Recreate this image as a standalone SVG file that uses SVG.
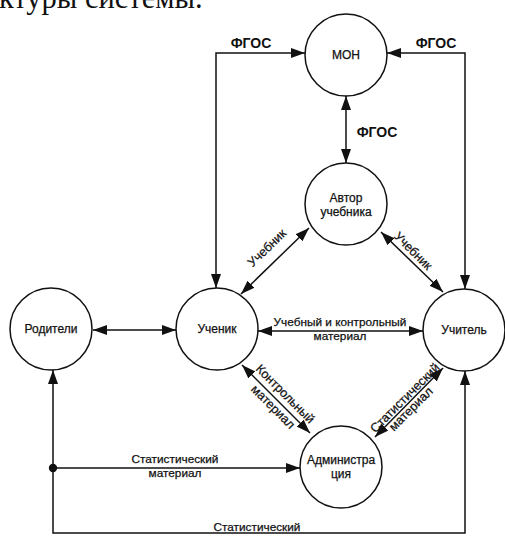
<svg xmlns="http://www.w3.org/2000/svg" width="505" height="538" viewBox="0 0 505 538">
  <style>
    .node { fill: #fff; stroke: #111; stroke-width: 1.5; }
    .lbl { font-family: "Liberation Sans", Arial, sans-serif; font-size: 12px; fill: #111; stroke: #111; stroke-width: 0.25; text-anchor: middle; }
    .edge-lbl { font-family: "Liberation Sans", Arial, sans-serif; font-size: 11.8px; fill: #111; stroke: #111; stroke-width: 0.25; text-anchor: middle; }
    .diag { font-size: 12.5px; }
    .std { font-family: "Liberation Sans", Arial, sans-serif; font-size: 14px; font-weight: bold; fill: #111; text-anchor: middle; }
    .conn { fill: none; stroke: #111; stroke-width: 1.5; }
    .both { marker-start: url(#arr); marker-end: url(#arr); }
    .one { marker-end: url(#arr); }
  </style>
  <defs>
    <marker id="arr" viewBox="0 0 14 10" refX="14" refY="5" markerWidth="14" markerHeight="10" markerUnits="userSpaceOnUse" orient="auto-start-reverse">
      <path d="M0,0 L14,5 L0,10 Z" fill="#111"/>
    </marker>
  </defs>
  <rect width="505" height="538" fill="#fff"/>

  <!-- caption fragment above the figure -->
  <text x="-1" y="7.5" font-family="Liberation Serif, 'Times New Roman', serif" font-size="30.5" fill="#111">ктуры системы.</text>

  <!-- connectors -->
  <g id="connectors">
    <path class="conn both" d="M216,288 V53 H305"/>
    <path class="conn both" d="M465,289 V53 H387"/>
    <path class="conn both" d="M346,96 V163"/>
    <path class="conn both" d="M241,294 L309,228"/>
    <path class="conn both" d="M381,232 L443,292"/>
    <path class="conn both" d="M258,331 H423"/>
    <path class="conn both" d="M93,330 H176"/>
    <path class="conn both" d="M242,365 L310,433"/>
    <path class="conn both" d="M375,437 L443,368"/>
    <path class="conn one" d="M53,468 H300"/>
    <circle cx="53" cy="468" r="4.2" fill="#111"/>
    <path class="conn both" d="M53,370 V533 H465 V371" stroke-width="1.9"/>

    <text class="std" x="251" y="48">ФГОС</text>
    <text class="std" x="436" y="48">ФГОС</text>
    <text class="std" x="377" y="137">ФГОС</text>

    <text class="edge-lbl diag" transform="translate(267,248) rotate(-44)" y="4">Учебник</text>
    <text class="edge-lbl diag" transform="translate(413,251) rotate(45)" y="4">Учебник</text>

    <text class="edge-lbl" x="340" y="326">Учебный и контрольный</text>
    <text class="edge-lbl" x="340" y="340">материал</text>

    <text class="edge-lbl diag" transform="translate(285,394) rotate(45)" y="4">Контрольный</text>
    <text class="edge-lbl diag" transform="translate(273,407) rotate(45)" y="4">материал</text>

    <text class="edge-lbl diag" transform="translate(405,398) rotate(-45)" y="4">Статистический</text>
    <text class="edge-lbl diag" transform="translate(411,409) rotate(-45)" y="4">материал</text>

    <text class="edge-lbl" x="175" y="463">Статистический</text>
    <text class="edge-lbl" x="175" y="477">материал</text>

    <text class="edge-lbl" x="257" y="531">Статистический</text>
  </g>

  <!-- nodes -->
  <g id="mon">
    <circle class="node" cx="346" cy="55" r="41"/>
    <text class="lbl" x="346" y="59" font-size="11">МОН</text>
  </g>
  <g id="author">
    <circle class="node" cx="346" cy="204" r="41"/>
    <text class="lbl" x="346" y="202">Автор</text>
    <text class="lbl" x="346" y="216">учебника</text>
  </g>
  <g id="pupil">
    <circle class="node" cx="217" cy="329" r="41"/>
    <text class="lbl" x="217" y="333">Ученик</text>
  </g>
  <g id="parents">
    <circle class="node" cx="51" cy="329" r="41"/>
    <text class="lbl" x="51" y="333">Родители</text>
  </g>
  <g id="teacher">
    <circle class="node" cx="464" cy="330" r="41"/>
    <text class="lbl" x="464" y="334">Учитель</text>
  </g>
  <g id="administration">
    <circle class="node" cx="341" cy="467" r="41"/>
    <text class="lbl" x="341" y="464">Администра</text>
    <text class="lbl" x="341" y="478">ция</text>
  </g>
</svg>
